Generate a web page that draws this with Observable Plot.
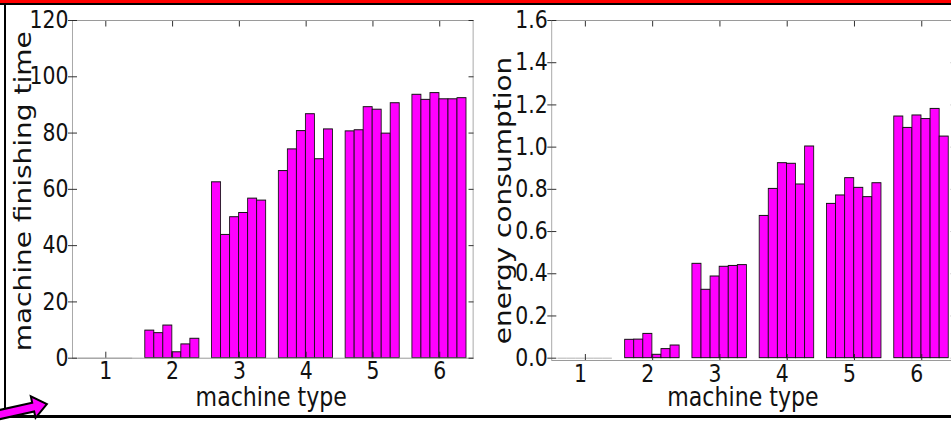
<!DOCTYPE html>
<html>
<head>
<meta charset="utf-8">
<script src="https://cdn.jsdelivr.net/npm/d3@7"></script>
<script src="https://cdn.jsdelivr.net/npm/@observablehq/plot@0.6"></script>
<style>
  html, body { margin: 0; padding: 0; background: #fff; overflow: hidden; }
  #page { position: relative; width: 951px; height: 426px; overflow: hidden; background: #fff; }
  #charts { position: absolute; left: 0; top: 0; width: 1130px; height: 426px; transform: scaleX(0.85); transform-origin: 0 0; }
  #charts > svg { position: absolute; top: 0; }
  .deco { position: absolute; }
</style>
</head>
<body>
<div id="page">
  <div id="charts"></div>
  <div class="deco" style="left:0;top:0;width:951px;height:3px;background:#ff0000"></div>
  <div class="deco" style="left:0;top:3px;width:951px;height:2px;background:#000"></div>
  <div class="deco" style="left:4px;top:3px;width:2px;height:415px;background:#000"></div>
  <div class="deco" style="left:0;top:415px;width:951px;height:3px;background:#000"></div>
  <svg class="deco" style="left:0;top:0" width="951" height="426">
    <g transform="translate(0,414.5) rotate(-12.5)">
      <path d="M-12,-4.5 L34,-4.5 L34,-11 L48,0 L34,11 L34,4.5 L-12,4.5 Z" fill="#ff00ff" stroke="#000" stroke-width="2" stroke-linejoin="miter"/>
    </g>
  </svg>
</div>
<script>
// ---- data ----
const machineTypes = [1, 2, 3, 4, 5, 6];
const finishingTime = [
  [0, 0, 0, 0, 0, 0],
  [9.8, 8.9, 11.6, 2.1, 4.9, 6.9],
  [62.5, 43.8, 50.1, 51.6, 56.7, 56.0],
  [66.5, 74.2, 80.7, 86.7, 70.7, 81.3],
  [80.6, 81.0, 89.2, 88.3, 79.8, 90.6],
  [93.6, 91.8, 94.2, 92.0, 92.0, 92.4]
];
const energyConsumption = [
  [0, 0, 0, 0, 0, 0],
  [0.087, 0.088, 0.115, 0.016, 0.043, 0.060],
  [0.447, 0.324, 0.387, 0.433, 0.437, 0.441],
  [0.674, 0.802, 0.924, 0.921, 0.823, 1.003],
  [0.731, 0.771, 0.853, 0.807, 0.763, 0.829],
  [1.145, 1.091, 1.150, 1.133, 1.181, 1.050]
];
const timeTicks = [0, 20, 40, 60, 80, 100, 120];
const energyTicks = [0, 0.2, 0.4, 0.6, 0.8, 1.0, 1.2, 1.4, 1.6];
const xLabel = "machine type";
const yLabelLeft = "machine finishing time";
const yLabelRight = "energy consumption";

// ---- layout helpers ----
const BAR_W = 0.135, GROUP_OFF = 0.41;
function rowsOf(values) {
  return machineTypes.flatMap((t, i) => values[i].map((v, k) => ({type: t, k, v})));
}
const x1 = d => d.type - GROUP_OFF + d.k * BAR_W;
const x2 = d => d.type - GROUP_OFF + (d.k + 1) * BAR_W;
const FONT = "DejaVu Sans";

function panel({values, yDomain, yTicks, yFmt, yLabel, width, marginLeft, marginRight, marginBottom,
                yLabDx, yLabDy, xLabDx, xLabDy, xTickDx}) {
  const rows = rowsOf(values);
  return Plot.plot({
    width, height: 426,
    marginLeft, marginRight, marginTop: 20, marginBottom,
    x: {domain: [0.5, 6.5]},
    y: {domain: yDomain},
    style: {fontFamily: FONT, fontSize: "24px", color: "#111", background: "transparent", overflow: "visible"},
    marks: [
      Plot.rect(rows.filter(d => d.v > 0), {x1, x2, y1: 0, y2: "v", fill: "#ff00ff", stroke: "#111", strokeWidth: 1}),
      Plot.ruleY(rows.filter(d => d.v === 0), {x1, x2, y: "v", stroke: "#aaa", strokeWidth: 1}),
      Plot.frame({stroke: "#9a9a9a", strokeWidth: 1}),
      Plot.axisY(yTicks, {anchor: "left", tickSize: 4.7, tickPadding: 0, tickFormat: yFmt, label: null, stroke: "#222", fontSize: 24}),
      Plot.axisY(yTicks, {anchor: "left", tickSize: -5.9, tickFormat: () => "", label: null, stroke: "#222"}),
      Plot.axisY(yTicks, {anchor: "right", tickSize: -5.9, tickFormat: () => "", label: null, stroke: "#222"}),
      Plot.axisX(machineTypes, {anchor: "bottom", tickSize: -6, tickFormat: () => "", label: null, stroke: "#222"}),
      Plot.axisX(machineTypes, {anchor: "top", tickSize: -5.5, tickFormat: () => "", label: null, stroke: "#222"}),
      Plot.axisX(machineTypes, {anchor: "bottom", tickSize: 0, tickPadding: 4, tickFormat: d => String(d), label: null, fontSize: 24, dx: xTickDx}),
      Plot.text([yLabel], {text: d => d, frameAnchor: "left", textAnchor: "middle", lineAnchor: "middle",
        rotate: -90, dx: yLabDx, dy: yLabDy, fontSize: 28, fill: "#111"}),
      Plot.text([xLabel], {text: d => d, frameAnchor: "bottom", textAnchor: "middle", lineAnchor: "middle",
        dx: xLabDx, dy: xLabDy, fontSize: 26, fill: "#111"})
    ]
  });
}

const left = panel({
  values: finishingTime, yDomain: [0, 120], yTicks: timeTicks, yFmt: d => String(d), yLabel: yLabelLeft,
  width: 560, marginLeft: 84.7, marginRight: 3.9, marginBottom: 68.3,
  yLabDx: -58.2, yLabDy: 2, xLabDx: -1.8, xLabDy: 39, xTickDx: 0
});
left.style.left = "0px";

const right = panel({
  values: energyConsumption, yDomain: [-0.011, 1.6], yTicks: energyTicks, yFmt: d3.format(".1f"), yLabel: yLabelRight,
  width: 570, marginLeft: 88.6, marginRight: 6.5, marginBottom: 66,
  yLabDx: -57.4, yLabDy: 10, xLabDx: -12.5, xLabDy: 36.7, xTickDx: -5.9
});
right.style.left = "560px";

const host = document.getElementById("charts");
host.appendChild(left);
host.appendChild(right);
</script>
</body>
</html>
